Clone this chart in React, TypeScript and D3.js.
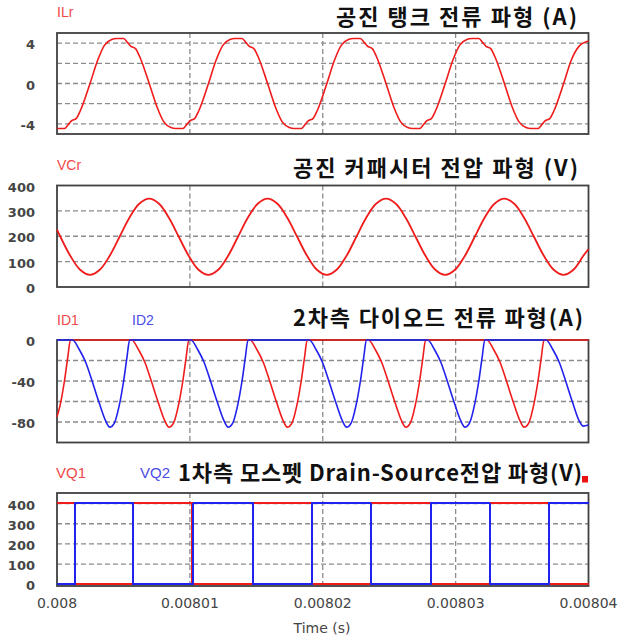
import React from 'react';
import * as d3 from 'd3';

// ---------- data (time in microseconds after 0.008 s) ----------
const T_START = 0.008;
const X_TICKS = [0.008, 0.00801, 0.00802, 0.00803, 0.00804];
const X_TICK_LABELS = ['0.008', '0.00801', '0.00802', '0.00803', '0.00804'];
const X_LABEL = 'Time (s)';

const TITLES = [
  '공진 탱크 전류 파형 (A)',
  '공진 커패시터 전압 파형 (V)',
  '2차측 다이오드 전류 파형(A)',
  '1차측 모스펫 Drain-Source전압 파형(V)',
];

const ILR_TICKS = [4, 0, -4];
const ILR_GRID = [4, 2, 0, -2, -4];
const VCR_TICKS = [400, 300, 200, 100, 0];
const VCR_GRID = [100, 200, 300];
const ID_TICKS = [0, -40, -80];
const ID_GRID = [-20, -40, -60, -80];
const VQ_TICKS = [400, 300, 200, 100, 0];
const VQ_GRID = [100, 200, 300, 400];

const ILR: [number, number][] = [
  [0, -4.45], [0.555, -4.45], [0.855, -4.05], [1.085, -3.7], [1.455, -3.45], [1.755, -2.7], [2.485, 0],
  [3.06, 2.3], [3.58, 3.8], [4.11, 4.35], [4.48, 4.45], [5.01, 4.45], [5.31, 4.05], [5.54, 3.7], [5.91, 3.45], [6.21, 2.7], [6.94, 0],
  [7.52, -2.3], [8.04, -3.8], [8.57, -4.35], [8.94, -4.45], [9.47, -4.45], [9.77, -4.05], [10.0, -3.7], [10.37, -3.45], [10.67, -2.7], [11.4, 0],
  [11.97, 2.3], [12.49, 3.8], [13.02, 4.35], [13.39, 4.45], [13.92, 4.45], [14.22, 4.05], [14.45, 3.7], [14.82, 3.45], [15.12, 2.7], [15.85, 0],
  [16.43, -2.3], [16.95, -3.8], [17.48, -4.35], [17.85, -4.45], [18.38, -4.45], [18.68, -4.05], [18.91, -3.7], [19.28, -3.45], [19.58, -2.7], [20.31, 0],
  [20.88, 2.3], [21.4, 3.8], [21.93, 4.35], [22.3, 4.45], [22.83, 4.45], [23.13, 4.05], [23.36, 3.7], [23.73, 3.45], [24.03, 2.7], [24.76, 0],
  [25.34, -2.3], [25.86, -3.8], [26.39, -4.35], [26.76, -4.45], [27.29, -4.45], [27.59, -4.05], [27.82, -3.7], [28.19, -3.45], [28.49, -2.7], [29.22, 0],
  [29.79, 2.3], [30.31, 3.8], [30.84, 4.35], [31.21, 4.45], [31.74, 4.45], [32.04, 4.05], [32.27, 3.7], [32.64, 3.45], [32.94, 2.7], [33.67, 0],
  [34.25, -2.3], [34.77, -3.8], [35.3, -4.35], [35.67, -4.45], [36.2, -4.45], [36.5, -4.05], [36.73, -3.7], [37.1, -3.45], [37.4, -2.7], [38.13, 0],
  [38.7, 2.3], [39.3, 3.7], [40, 4.2],
];

const VCR: [number, number][] = [
  [0, 226], [0.255, 198], [0.9975, 123], [1.74, 68], [2.48, 48], [3.22, 68], [3.965, 123], [4.71, 198], [5.45, 273], [6.19, 328],
  [6.935, 348], [7.68, 328], [8.42, 273], [9.165, 198], [9.91, 123], [10.65, 68], [11.39, 48], [12.135, 68], [12.88, 123], [13.62, 198],
  [14.36, 273], [15.105, 328], [15.845, 348], [16.59, 328], [17.33, 273], [18.075, 198], [18.82, 123], [19.56, 68], [20.3, 48], [21.045, 68],
  [21.79, 123], [22.53, 198], [23.27, 273], [24.015, 328], [24.755, 348], [25.5, 328], [26.24, 273], [26.985, 198], [27.73, 123], [28.47, 68],
  [29.21, 48], [29.955, 68], [30.7, 123], [31.44, 198], [32.18, 273], [32.925, 328], [33.665, 348], [34.41, 328], [35.15, 273], [35.895, 198],
  [36.64, 123], [37.38, 68], [38.12, 48], [38.865, 68], [39.61, 123], [40, 150],
];

const ID1: [number, number][] = [
  [0, -75], [0.21, -65], [0.56, -40], [0.81, -17], [1.01, 0],
  [5.62, 0], [6.12, -9], [6.62, -22], [7.12, -41], [7.62, -61], [8.12, -79], [8.42, -85], [8.77, -81], [9.12, -65], [9.47, -40], [9.72, -17], [9.92, 0],
  [14.53, 0], [15.03, -9], [15.53, -22], [16.03, -41], [16.53, -61], [17.03, -79], [17.33, -85], [17.68, -81], [18.03, -65], [18.38, -40], [18.63, -17], [18.83, 0],
  [23.44, 0], [23.94, -9], [24.44, -22], [24.94, -41], [25.44, -61], [25.94, -79], [26.24, -85], [26.59, -81], [26.94, -65], [27.29, -40], [27.54, -17], [27.74, 0],
  [32.35, 0], [32.85, -9], [33.35, -22], [33.85, -41], [34.35, -61], [34.85, -79], [35.15, -85], [35.5, -81], [35.85, -65], [36.2, -40], [36.45, -17], [36.65, 0],
  [40, 0],
];

const ID2: [number, number][] = [
  [0, 0], [1.165, 0], [1.665, -9], [2.165, -22], [2.665, -41], [3.165, -61], [3.665, -79], [3.965, -85], [4.315, -81], [4.665, -65], [5.015, -40], [5.265, -17], [5.465, 0],
  [10.075, 0], [10.575, -9], [11.075, -22], [11.575, -41], [12.075, -61], [12.575, -79], [12.875, -85], [13.225, -81], [13.575, -65], [13.925, -40], [14.175, -17], [14.375, 0],
  [18.985, 0], [19.485, -9], [19.985, -22], [20.485, -41], [20.985, -61], [21.485, -79], [21.785, -85], [22.135, -81], [22.485, -65], [22.835, -40], [23.085, -17], [23.285, 0],
  [27.895, 0], [28.395, -9], [28.895, -22], [29.395, -41], [29.895, -61], [30.395, -79], [30.695, -85], [31.045, -81], [31.395, -65], [31.745, -40], [31.995, -17], [32.195, 0],
  [36.805, 0], [37.305, -9], [37.805, -22], [38.305, -41], [38.805, -61], [39.305, -79], [39.605, -84], [40, -83],
];

// switching edges (µs) and starting levels (V) of the MOSFET drain-source voltages
const VQ_HIGH = 402;
const VQ1_START = 402;
const VQ1_EDGES = [1.35, 5.75, 10.16, 14.73, 19.18, 23.6, 28.15, 32.56, 37.0];
const VQ2_START = 0;
const VQ2_EDGES = [1.35, 5.75, 10.26, 14.73, 19.18, 23.6, 28.15, 32.56, 37.0];
const T_END_US = 40;

// ---------- styling ----------
const RED = '#f01c1c';
const BLUE = '#2222ee';
const RED_LABEL = '#f04848';
const BLUE_LABEL = '#4b4be6';
const FRAME = '#404040';
const GRID = '#8c8c8c';
const TICK_TEXT = '#454545';

function stepSeries(start: number, edges: number[]): [number, number][] {
  const pts: [number, number][] = [[0, start]];
  let level = start;
  edges.forEach((e) => {
    level = level > 0 ? 0 : VQ_HIGH;
    pts.push([e, level]);
  });
  pts.push([T_END_US, level]);
  return pts;
}

export default function App() {
  const X0 = 57;
  const X1 = 588.5;
  const x = d3.scaleLinear().domain([X_TICKS[0], X_TICKS[X_TICKS.length - 1]]).range([X0, X1]);
  const tx = (us: number) => x(T_START + us * 1e-6);

  const panels = [
    {
      top: 33, bottom: 134, domain: [-5, 5], ticks: ILR_TICKS, grid: ILR_GRID,
      series: [{ data: ILR, color: RED, w: 1.6, curve: d3.curveMonotoneX, crisp: false }],
      labels: [{ text: 'ILr', x: 57, color: RED_LABEL, size: 14 }], labelY: 17,
      title: TITLES[0], tx0: 336, tx1: 577, ty: 24.5,
    },
    {
      top: 185.5, bottom: 287, domain: [0, 400], ticks: VCR_TICKS, grid: VCR_GRID,
      series: [{ data: VCR, color: RED, w: 1.8, curve: d3.curveCatmullRom.alpha(0.5), crisp: false }],
      labels: [{ text: 'VCr', x: 57, color: RED_LABEL, size: 14 }], labelY: 170,
      title: TITLES[1], tx0: 293, tx1: 578, ty: 175.5,
    },
    {
      top: 340, bottom: 442.5, domain: [-100, 0], ticks: ID_TICKS, grid: ID_GRID,
      series: [
        { data: ID1, color: RED, w: 1.6, curve: d3.curveMonotoneX, crisp: false },
        { data: ID2, color: BLUE, w: 1.6, curve: d3.curveMonotoneX, crisp: false },
      ],
      labels: [
        { text: 'ID1', x: 57, color: RED_LABEL, size: 14 },
        { text: 'ID2', x: 132, color: BLUE_LABEL, size: 14 },
      ], labelY: 325,
      title: TITLES[2], tx0: 293, tx1: 583, ty: 325.5,
    },
    {
      top: 493, bottom: 586, domain: [-8, 452], ticks: VQ_TICKS, grid: VQ_GRID,
      series: [
        { data: stepSeries(VQ1_START, VQ1_EDGES), color: RED, w: 2, curve: d3.curveStepAfter, crisp: true },
        { data: stepSeries(VQ2_START, VQ2_EDGES), color: BLUE, w: 2, curve: d3.curveStepAfter, crisp: true },
      ],
      labels: [
        { text: 'VQ1', x: 56, color: RED_LABEL, size: 15 },
        { text: 'VQ2', x: 140, color: BLUE_LABEL, size: 15 },
      ], labelY: 478,
      title: TITLES[3], tx0: 178, tx1: 582, ty: 480.5,
    },
  ];

  const vGrid = X_TICKS.slice(1, -1);

  return (
    <svg
      width={619}
      height={638}
      viewBox="0 0 619 638"
      style={{ position: 'absolute', left: 0, top: 0, background: '#fff' }}
    >
      <rect x={0} y={0} width={619} height={638} fill="#fff" />
      {panels.map((p, i) => {
        const y = d3.scaleLinear().domain(p.domain).range([p.bottom, p.top]);
        return (
          <g key={i}>
            {p.grid.map((g) => (
              <line key={'h' + g} x1={X0} x2={X1} y1={y(g)} y2={y(g)}
                stroke={GRID} strokeWidth={1.3} strokeDasharray="5,3" />
            ))}
            {vGrid.map((t) => (
              <line key={'v' + t} x1={x(t)} x2={x(t)} y1={p.top} y2={p.bottom}
                stroke={GRID} strokeWidth={1.3} strokeDasharray="5,3" />
            ))}
            <rect x={X0} y={p.top} width={X1 - X0} height={p.bottom - p.top}
              fill="none" stroke={FRAME} strokeWidth={1.8} />
            {p.ticks.map((t) => (
              <text key={'t' + t} x={35} y={y(t) + 1.5} textAnchor="end" dominantBaseline="central"
                fontFamily="DejaVu Sans" fontWeight="bold" fontSize={13} fill={TICK_TEXT}>
                {t}
              </text>
            ))}
            {p.series.map((s, j) => {
              const gen = d3.line<[number, number]>()
                .x((d) => tx(d[0]))
                .y((d) => y(d[1]))
                .curve(s.curve);
              return (
                <path key={j} d={gen(s.data) || ''} fill="none" stroke={s.color}
                  strokeWidth={s.w} strokeLinejoin="round"
                  shapeRendering={s.crisp ? 'crispEdges' : undefined} />
              );
            })}
            {p.labels.map((l) => (
              <text key={l.text} x={l.x} y={p.labelY} fontFamily="Liberation Sans, Arial, sans-serif"
                fontSize={l.size} fill={l.color}>
                {l.text}
              </text>
            ))}
            <text x={p.tx0} y={p.ty} textLength={p.tx1 - p.tx0} lengthAdjust="spacing"
              fontFamily="Noto Sans CJK KR" fontWeight="bold" fontSize={22} fill="#111">
              {p.title}
            </text>
          </g>
        );
      })}
      <rect x={582} y={476} width={6} height={6.5} fill="#ee1111" />
      {X_TICKS.map((t, i) => (
        <text key={t} x={x(t)} y={608} textAnchor="middle" fontFamily="DejaVu Sans"
          fontSize={14} fill={TICK_TEXT}>
          {X_TICK_LABELS[i]}
        </text>
      ))}
      <text x={322} y={633} textAnchor="middle" fontFamily="DejaVu Sans" fontSize={14} fill={TICK_TEXT}>
        {X_LABEL}
      </text>
    </svg>
  );
}
